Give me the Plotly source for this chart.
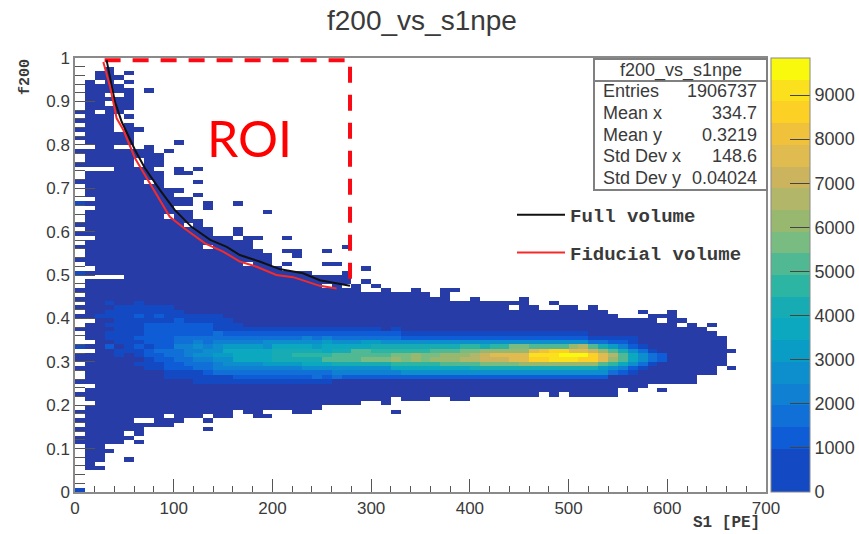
import plotly.graph_objects as go

# ---------- data ----------
X_EDGE_STEP = 10          # S1 bin width
Y_EDGE_STEP = 0.01        # f200 bin width
N_X, N_Y = 70, 100
BAND = 492                # height of one colour band

# highest and lowest occupied f200 bin of the body of each S1 column (k = 0..65)
COL_TOP = [87,94,96,97,95,96,78,79,77,69,64,64,62,60,58,58,57,58,55,54,51,50,50,50,49,49,49,50,47,45,
           45,46,45,45,46,45,44,46,43,43,44,43,43,43,43,44,42,41,41,42,42,41,42,41,40,39,39,39,40,40,
           41,39,38,37,36,35]
COL_BOTTOM = [11,5,5,11,11,12,13,15,15,15,16,17,17,18,17,17,19,18,17,17,19,19,18,18,19,20,20,20,20,21,
              21,20,22,21,21,21,22,22,21,21,22,22,22,22,22,22,22,23,22,23,22,22,22,22,22,24,23,24,25,25,
              25,25,25,27,27,29]
ISLANDS = [(3,9),(5,7),(6,11),(6,83),(7,92),(9,78),(10,69),(10,73),(10,74),(10,80),(10,66),(10,67),
           (11,66),(11,67),(11,73),(12,68),(12,71),(12,74),(13,65),(13,66),(13,16),(13,14),(16,59),
           (16,60),(16,66),(18,58),(19,64),(21,52),(21,55),(21,58),(22,54),(22,55),(25,52),(25,55),
           (26,52),(27,56),(29,48),(29,51),(30,47),(32,18),(38,46),(48,43),(57,41),(59,23),(66,28),
           (66,32),(64,38)]
HOLES = [(2,94),(2,87),(2,74),(2,6),(3,91),(3,89),(3,74),(4,94),(4,91),(4,86),(4,85),(4,84),(4,83),
         (4,79),(5,95),(5,93),(5,87),(5,85),(5,79),(2,49),(3,49),(4,49),(6,76),(6,75),(6,16),(7,16),
         (6,12),(5,13),(7,71),(8,74),(9,63),(11,61),(13,56),(16,58),(17,52),(18,57),(18,56),(9,17),
         (19,18),(25,47),(27,47),(44,42),(59,39),(61,38)]
HOLES_COL0 = [86,84,82,80,79,77,76,74,73,72,70,69,68,67,65,64,63,62,60,58,57,55,54,52,51,49,48,47,45,
              43,41,39,38,36,35,34,32,29,27,26,24,23,21,20,19,17,15,13]
HOLES_COL1 = [79,74,67,65,58,51,49,39,34,32,24,20]
BRIGHT_CELLS = [(0,0),(0,33),(0,50),(0,66)]

# colour band of the dense core: f200 bin -> runs of (first column, last column, band)
CORE_RUNS = {
 43: [(3,3,1),(6,6,1)],
 42: [(4,9,1)],
 41: [(3,10,1)],
 40: [(2,14,1),(6,6,2),(8,8,2)],
 39: [(4,15,1),(10,10,2)],
 38: [(3,16,1),(7,13,2)],
 37: [(4,30,1),(7,13,2),(32,32,1)],
 36: [(3,6,1),(7,13,2),(14,14,3),(15,32,2),(33,51,1)],
 35: [(3,5,1),(6,9,2),(10,22,3),(23,23,4),(24,32,3),(25,25,4),(33,51,2),(52,56,1)],
 34: [(4,6,1),(7,9,2),(10,11,3),(12,12,4),(13,13,3),(14,18,4),(19,33,5),(25,25,6),(29,30,6),(34,51,5),
      (52,53,3),(54,55,2),(56,56,1)],
 33: [(3,3,2),(5,5,1),(6,6,2),(7,7,1),(8,9,2),(10,11,4),(12,12,5),(13,13,4),(14,14,5),(15,18,6),(19,19,5),
      (20,29,7),(24,24,6),(30,38,8),(39,40,9),(41,41,8),(42,43,9),(44,45,11),(46,49,10),(50,50,12),(51,51,13),
      (52,52,10),(53,53,8),(54,54,6),(55,55,4),(56,56,2),(57,57,1)],
 32: [(4,6,1),(7,7,2),(8,10,3),(11,12,4),(13,14,5),(15,19,7),(20,27,8),(25,25,7),(28,29,10),(30,35,9),
      (36,38,10),(39,40,11),(41,45,12),(46,46,15),(47,47,16),(48,49,17),(50,51,15),(52,52,14),(53,53,12),
      (54,54,10),(55,55,8),(56,56,5),(57,57,3),(58,58,1)],
 31: [(4,4,1),(6,6,1),(7,8,2),(9,10,3),(11,11,4),(12,13,5),(14,15,6),(16,19,7),(20,21,8),(22,25,9),(26,31,10),
      (32,33,11),(34,34,12),(35,36,11),(37,39,12),(40,40,13),(41,41,14),(42,45,15),(46,48,18),(49,51,19),
      (52,52,17),(53,53,15),(54,54,13),(55,55,10),(56,56,7),(57,57,5),(58,58,3),(59,59,2)],
 30: [(7,7,1),(8,9,2),(10,11,3),(12,13,4),(14,15,5),(16,19,7),(20,24,8),(25,28,10),(29,31,11),(32,32,12),
      (33,33,11),(34,34,12),(35,35,11),(36,38,12),(39,40,13),(41,43,14),(44,45,15),(46,47,17),(48,50,18),
      (51,52,17),(53,53,15),(54,54,12),(55,55,10),(56,56,7),(57,57,5),(58,58,3),(59,59,2)],
 29: [(6,8,1),(9,10,2),(11,13,3),(14,14,4),(15,18,5),(19,22,6),(23,25,7),(26,31,8),(32,36,9),(37,40,10),
      (41,44,11),(45,52,12),(53,53,10),(54,54,9),(55,55,7),(56,56,5),(57,57,3),(58,58,1)],
 28: [(7,8,1),(9,11,2),(12,13,3),(14,22,4),(23,31,5),(32,39,7),(40,52,8),(53,53,6),(54,54,5),(55,55,4),
      (56,56,2),(57,57,1)],
 27: [(9,12,1),(13,13,2),(14,25,3),(26,32,4),(33,53,5),(54,54,3),(55,55,2),(56,56,1)],
 26: [(9,15,1),(16,23,2),(24,24,3),(25,25,2),(26,26,3),(27,53,2)],
 25: [(12,25,1)],
}

FULL_X = [32,40.5,47.3,60.8,70.9,86,101,118,137,153.7,167,187,208,231,248,278.6]
FULL_Y = [.995,.899,.853,.788,.746,.696,.650,.611,.581,.565,.546,.531,.513,.504,.488,.475]
FID_X = [28.7,35.5,42.2,49,60.8,76,86,96,111,131.7,150,167,184,204,221,248,265]
FID_Y = [.991,.934,.861,.834,.769,.711,.673,.634,.607,.573,.554,.531,.519,.500,.495,.475,.469]
ROI_X = [30,278.6,278.6]
ROI_Y = [.995,.995,.477]

X_TICKS = [0,100,200,300,400,500,600,700]
Y_TICKS = [0,.1,.2,.3,.4,.5,.6,.7,.8,.9,1]
Y_LABELS = ["0","0.1","0.2","0.3","0.4","0.5","0.6","0.7","0.8","0.9","1"]
BAR_TICKS = [0,1000,2000,3000,4000,5000,6000,7000,8000,9000]
STATS_NAMES = ["Entries","Mean x","Mean y","Std Dev x","Std Dev y"]
STATS_VALUES = ["1906737","334.7","0.3219","148.6","0.04024"]

BAND_COLOURS = ["#1449c4","#1449c4","#0e5cd6","#1070d8","#0f80d2","#0d8fcd","#099dc6","#0ca8bf","#17acb4",
                "#2cb5a2","#50b892","#78bc82","#98b870","#b2b668","#ccb45e","#e0bc50","#f0c23c","#fcd024",
                "#fbe01e","#f9f90e"]
BASE_COLOUR = "#273ca6"

# ---------- build the cell matrices ----------
base = [[None]*N_X for _ in range(N_Y)]
core = [[None]*N_X for _ in range(N_Y)]
for k,(t,b) in enumerate(zip(COL_TOP, COL_BOTTOM)):
    for j in range(b, t+1):
        base[j][k] = 1
for k,j in ISLANDS:
    base[j][k] = 1
for k,j in HOLES:
    base[j][k] = None
for j in HOLES_COL0:
    base[j][0] = None
for j in HOLES_COL1:
    base[j][1] = None
for j,runs in CORE_RUNS.items():
    for k0,k1,level in runs:
        for k in range(k0,k1+1):
            core[j][k] = (level+.5)*BAND
            base[j][k] = None
for k,j in BRIGHT_CELLS:
    core[j][k] = 1.5*BAND
    base[j][k] = None

x_centres = [(k+.5)*X_EDGE_STEP for k in range(N_X)]
y_centres = [(j+.5)*Y_EDGE_STEP for j in range(N_Y)]
zmax = 20*BAND
scale = []
for i,c in enumerate(BAND_COLOURS):
    scale += [[i/20,c],[(i+1)/20,c]]

# ---------- page geometry in pixels ----------
W,H = 859,534
L,R,T,B = 75,766,58,492
px = lambda v:(v-L)/(R-L)
py = lambda v:(B-v)/(B-T)
GREY = "#3a3a3a"
MONO = "Liberation Mono"
SANS = "Liberation Sans"

fig = go.Figure()
fig.add_trace(go.Heatmap(x=x_centres,y=y_centres,z=base,zmin=0,zmax=2,showscale=False,hoverongaps=False,
                         colorscale=[[0,BASE_COLOUR],[1,BASE_COLOUR]]))
fig.add_trace(go.Heatmap(x=x_centres,y=y_centres,z=core,zmin=0,zmax=zmax,colorscale=scale,hoverongaps=False,
    colorbar=dict(x=px(771),xanchor="left",xpad=0,y=0,yanchor="bottom",ypad=0,len=1,thickness=39,
                  tickvals=BAR_TICKS,ticks="inside",ticklen=20,tickcolor="#444",tickwidth=1,
                  outlinecolor="#888",outlinewidth=1,tickfont=dict(family=SANS,size=18,color=GREY))))
fig.add_trace(go.Scatter(x=ROI_X,y=ROI_Y,mode="lines",showlegend=False,
                         line=dict(color="#fa0a14",width=4,dash="16px,12px")))
fig.add_trace(go.Scatter(x=FULL_X,y=FULL_Y,mode="lines",name="Full volume",legendgroup="a",
                         line=dict(color="#111111",width=2)))
fig.add_trace(go.Scatter(x=FID_X,y=FID_Y,mode="lines",name="Fiducial volume",legendgroup="b",
                         line=dict(color="#f52a2a",width=2)))

ann = [
 dict(x=px(422),y=py(21),text="f200_vs_s1npe",font=dict(family=SANS,size=28,color=GREY)),
 dict(x=px(249),y=py(138),text="ROI",font=dict(family="Lato",size=50,color="#ff0000")),
 dict(x=px(26),y=py(77),text="f200",textangle=-90,font=dict(family=MONO,size=15,color=GREY,weight="bold")),
 dict(x=px(726),y=py(523),text="S1 [PE]",font=dict(family=MONO,size=16,color=GREY,weight="bold")),
 dict(x=px(680.5),y=py(70),text="f200_vs_s1npe",font=dict(family=SANS,size=18,color=GREY)),
]
for i,(n,v) in enumerate(zip(STATS_NAMES,STATS_VALUES)):
    yy = py(91+21.8*i)
    ann.append(dict(x=px(601),y=yy,text=n,xanchor="left",font=dict(family=SANS,size=18,color=GREY)))
    ann.append(dict(x=px(758.5),y=yy,text=v,xanchor="right",font=dict(family=SANS,size=18,color=GREY)))
for a in ann:
    a.setdefault("xanchor","center")
    a.update(xref="paper",yref="paper",yanchor="middle",showarrow=False)

shapes = [
 dict(type="rect",xref="paper",yref="paper",x0=px(594),x1=px(767),y0=py(59),y1=py(190),
      fillcolor="white",line=dict(color="#808080",width=2),layer="above"),
 dict(type="line",xref="paper",yref="paper",x0=px(594),x1=px(767),y0=py(81),y1=py(81),
      line=dict(color="#808080",width=2),layer="above"),
]

axis_common = dict(showgrid=False,zeroline=False,showline=True,linecolor="#8a8a8a",linewidth=1.5,mirror=True,
                   ticks="inside",tickcolor="#555",tickwidth=1,tickfont=dict(family=SANS,size=17,color=GREY))
fig.update_layout(
    width=W,height=H,autosize=False,paper_bgcolor="white",plot_bgcolor="white",
    margin=dict(l=L,r=W-R,t=T,b=H-B,autoexpand=False),
    xaxis=dict(range=[0,700],tickvals=X_TICKS,ticklen=13,minor=dict(ticks="inside",dtick=20,ticklen=6,tickcolor="#555"),
               **axis_common),
    yaxis=dict(range=[0,1],tickvals=Y_TICKS,ticktext=Y_LABELS,ticklen=20,
               minor=dict(ticks="inside",dtick=.02,ticklen=10,tickcolor="#555"),**axis_common),
    legend=dict(x=px(512),y=py(196),xanchor="left",yanchor="top",bgcolor="rgba(0,0,0,0)",itemwidth=48,
                tracegroupgap=10,traceorder="grouped",font=dict(family=MONO,size=19,color=GREY,weight="bold")),
    annotations=ann,shapes=shapes,
)
fig.write_html("out.html",config=dict(displayModeBar=False),
               post_script="document.body.style.margin='0';document.body.style.overflow='hidden';")
